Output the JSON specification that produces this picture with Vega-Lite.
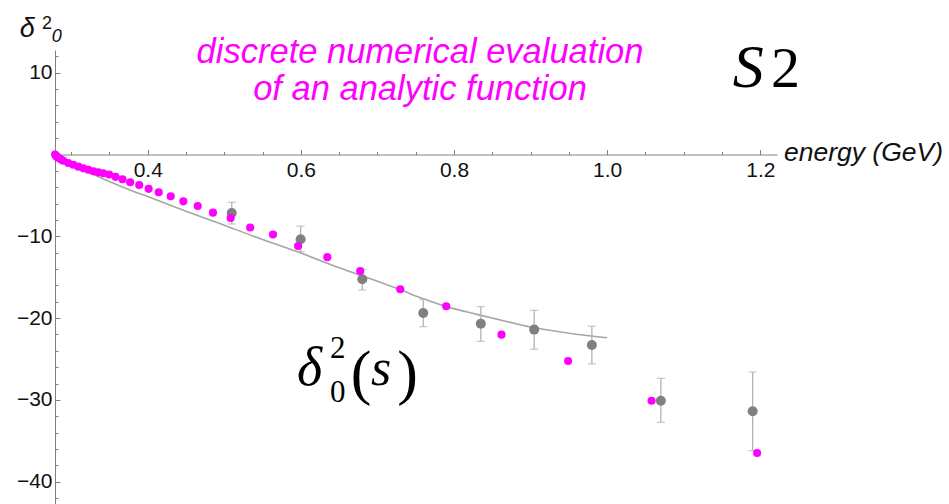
{
  "$schema": "https://vega.github.io/schema/vega-lite/v6.json",
  "width": 722,
  "height": 454,
  "autosize": "none",
  "padding": {"left": 55, "top": 50, "right": 172, "bottom": 0},
  "background": "white",
  "config": {"view": {"stroke": null}},
  "datasets": {
    "one": [{}],
    "curve": [
      {"e": 0.2789, "d": 0}, {"e": 0.283, "d": -0.35}, {"e": 0.29, "d": -0.8}, {"e": 0.30, "d": -1.25},
      {"e": 0.32, "d": -2.05}, {"e": 0.34, "d": -2.9}, {"e": 0.36, "d": -3.7}, {"e": 0.38, "d": -4.45},
      {"e": 0.40, "d": -5.15}, {"e": 0.45, "d": -6.95}, {"e": 0.50, "d": -8.65}, {"e": 0.55, "d": -10.4},
      {"e": 0.60, "d": -12.05}, {"e": 0.65, "d": -13.85}, {"e": 0.70, "d": -15.5}, {"e": 0.73, "d": -16.55},
      {"e": 0.76, "d": -17.65}, {"e": 0.79, "d": -18.6}, {"e": 0.83, "d": -19.55}, {"e": 0.87, "d": -20.45},
      {"e": 0.90, "d": -21.1}, {"e": 0.95, "d": -21.85}, {"e": 1.00, "d": -22.4}
    ],
    "analytic": [
      {"e": 0.2790, "d": 0}, {"e": 0.2805, "d": -0.2}, {"e": 0.2825, "d": -0.36}, {"e": 0.2850, "d": -0.5},
      {"e": 0.2875, "d": -0.64}, {"e": 0.2898, "d": -0.76}, {"e": 0.2963, "d": -1.04}, {"e": 0.3029, "d": -1.25},
      {"e": 0.3094, "d": -1.49}, {"e": 0.3160, "d": -1.69}, {"e": 0.3225, "d": -1.86}, {"e": 0.3290, "d": -2.05},
      {"e": 0.3355, "d": -2.18}, {"e": 0.3420, "d": -2.3}, {"e": 0.3497, "d": -2.45}, {"e": 0.3580, "d": -2.73},
      {"e": 0.3670, "d": -3.02}, {"e": 0.3771, "d": -3.4}, {"e": 0.3889, "d": -3.73}, {"e": 0.4012, "d": -4.2},
      {"e": 0.4143, "d": -4.62}, {"e": 0.4300, "d": -5.11}, {"e": 0.4465, "d": -5.73}, {"e": 0.4653, "d": -6.3},
      {"e": 0.4852, "d": -7.11}, {"e": 0.5083, "d": -7.76}, {"e": 0.5338, "d": -8.92}, {"e": 0.5636, "d": -9.78},
      {"e": 0.5964, "d": -11.19}, {"e": 0.6345, "d": -12.55}, {"e": 0.6775, "d": -14.24}, {"e": 0.7298, "d": -16.48},
      {"e": 0.7898, "d": -18.56}, {"e": 0.8620, "d": -22.03}, {"e": 0.9490, "d": -25.24}, {"e": 1.0580, "d": -30.1},
      {"e": 1.1958, "d": -36.5}
    ],
    "experiment": [
      {"e": 0.5097, "d": -7.15, "lo": -8.5, "hi": -5.85},
      {"e": 0.5997, "d": -10.37, "lo": -11.88, "hi": -8.75},
      {"e": 0.6802, "d": -15.26, "lo": -16.56, "hi": -14.04},
      {"e": 0.7598, "d": -19.38, "lo": -21.05, "hi": -17.7},
      {"e": 0.8350, "d": -20.68, "lo": -22.84, "hi": -18.6},
      {"e": 0.9047, "d": -21.41, "lo": -23.81, "hi": -19.05},
      {"e": 0.9800, "d": -23.29, "lo": -25.6, "hi": -21.0},
      {"e": 1.0701, "d": -30.1, "lo": -32.74, "hi": -27.36},
      {"e": 1.1900, "d": -31.4, "lo": -36.21, "hi": -26.59}
    ]
  },
  "resolve": {"axis": {"x": "independent", "y": "independent"}},
  "layer": [
    {
      "data": {"name": "curve"},
      "mark": {"type": "line", "color": "#a6a6a6", "strokeWidth": 1.6, "interpolate": "monotone"},
      "encoding": {
        "x": {"field": "e", "type": "quantitative", "scale": {"domain": [0.2789, 1.2218], "nice": false, "zero": false},
          "axis": {"orient": "bottom", "offset": -349.5, "values": [0.4, 0.6, 0.8, 1.0, 1.2], "format": ".1f",
            "title": null, "grid": false, "domainColor": "#808080", "tickColor": "#808080", "tickSize": -5,
            "labelPadding": 10, "labelFont": "Liberation Sans", "labelFontSize": 21, "labelColor": "#111111", "labelFlush": false, "labelOverlap": false}},
        "y": {"field": "d", "type": "quantitative", "scale": {"domain": [-42.73, 12.775], "nice": false, "zero": false},
          "axis": {"orient": "left", "values": [10, -10, -20, -30, -40], "title": null, "grid": false,
            "domainColor": "#808080", "tickColor": "#808080", "tickSize": -5, "labelPadding": 8,
            "labelFont": "Liberation Sans", "labelFontSize": 21, "labelColor": "#111111", "labelFlush": false, "labelOverlap": false}}
      }
    },
    {
      "data": {"name": "experiment"},
      "mark": {"type": "errorbar", "ticks": {"size": 8}, "color": "#b3b3b3", "thickness": 1.3},
      "encoding": {
        "x": {"field": "e", "type": "quantitative", "axis": null},
        "y": {"field": "lo", "type": "quantitative", "axis": null},
        "y2": {"field": "hi"}
      }
    },
    {
      "data": {"name": "experiment"},
      "mark": {"type": "circle", "color": "#808080", "opacity": 1, "size": 100},
      "encoding": {
        "x": {"field": "e", "type": "quantitative", "axis": null},
        "y": {"field": "d", "type": "quantitative", "axis": null}
      }
    },
    {
      "data": {"name": "analytic"},
      "mark": {"type": "circle", "color": "#ff00ff", "opacity": 1, "size": 66},
      "encoding": {
        "x": {"field": "e", "type": "quantitative",
          "axis": {"orient": "bottom", "offset": -349.5, "values": [0.3, 0.35, 0.45, 0.5, 0.55, 0.65, 0.7, 0.75, 0.85, 0.9, 0.95, 1.05, 1.1, 1.15],
            "labels": false, "domain": false, "title": null, "grid": false, "tickColor": "#808080", "tickSize": -3}},
        "y": {"field": "d", "type": "quantitative",
          "axis": {"orient": "left", "values": [12, 8, 6, 4, 2, -2, -4, -6, -8, -12, -14, -16, -18, -22, -24, -26, -28, -32, -34, -36, -38, -42],
            "labels": false, "domain": false, "title": null, "grid": false, "tickColor": "#808080", "tickSize": -3}}
      }
    },
    {
      "data": {"name": "one"},
      "mark": {"type": "text", "text": "discrete numerical evaluation", "font": "Liberation Sans", "fontStyle": "italic", "fontSize": 34.5, "color": "#ff00ff", "align": "center", "baseline": "alphabetic"},
      "encoding": {"x": {"datum": 0.7556, "type": "quantitative", "axis": null}, "y": {"datum": 11.19, "type": "quantitative", "axis": null}}
    },
    {
      "data": {"name": "one"},
      "mark": {"type": "text", "text": "of an analytic function", "font": "Liberation Sans", "fontStyle": "italic", "fontSize": 34.5, "color": "#ff00ff", "align": "center", "baseline": "alphabetic"},
      "encoding": {"x": {"datum": 0.7556, "type": "quantitative", "axis": null}, "y": {"datum": 6.66, "type": "quantitative", "axis": null}}
    },
    {
      "data": {"name": "one"},
      "mark": {"type": "text", "text": "S", "font": "Liberation Serif", "fontStyle": "italic", "fontSize": 62, "color": "#000000", "align": "left", "baseline": "alphabetic"},
      "encoding": {"x": {"datum": 1.1640, "type": "quantitative", "axis": null}, "y": {"datum": 8.29, "type": "quantitative", "axis": null}}
    },
    {
      "data": {"name": "one"},
      "mark": {"type": "text", "text": "2", "font": "Liberation Serif", "fontSize": 58, "color": "#000000", "align": "left", "baseline": "alphabetic"},
      "encoding": {"x": {"datum": 1.2140, "type": "quantitative", "axis": null}, "y": {"datum": 8.29, "type": "quantitative", "axis": null}}
    },
    {
      "data": {"name": "one"},
      "mark": {"type": "text", "text": "δ", "font": "Liberation Serif", "fontStyle": "italic", "fontSize": 54, "color": "#000000", "align": "left", "baseline": "alphabetic"},
      "encoding": {"x": {"datum": 0.5950, "type": "quantitative", "axis": null}, "y": {"datum": -28.18, "type": "quantitative", "axis": null}}
    },
    {
      "data": {"name": "one"},
      "mark": {"type": "text", "text": "2", "font": "Liberation Serif", "fontSize": 31, "color": "#000000", "align": "left", "baseline": "alphabetic"},
      "encoding": {"x": {"datum": 0.638, "type": "quantitative", "axis": null}, "y": {"datum": -24.88, "type": "quantitative", "axis": null}}
    },
    {
      "data": {"name": "one"},
      "mark": {"type": "text", "text": "0", "font": "Liberation Serif", "fontSize": 31, "color": "#000000", "align": "left", "baseline": "alphabetic"},
      "encoding": {"x": {"datum": 0.638, "type": "quantitative", "axis": null}, "y": {"datum": -30.22, "type": "quantitative", "axis": null}}
    },
    {
      "data": {"name": "one"},
      "mark": {"type": "text", "text": "(", "font": "Liberation Serif", "fontSize": 62, "color": "#000000", "align": "left", "baseline": "alphabetic"},
      "encoding": {"x": {"datum": 0.6650, "type": "quantitative", "axis": null}, "y": {"datum": -29.2, "type": "quantitative", "axis": null}}
    },
    {
      "data": {"name": "one"},
      "mark": {"type": "text", "text": "s", "font": "Liberation Serif", "fontStyle": "italic", "fontSize": 52, "color": "#000000", "align": "left", "baseline": "alphabetic"},
      "encoding": {"x": {"datum": 0.6915, "type": "quantitative", "axis": null}, "y": {"datum": -28.18, "type": "quantitative", "axis": null}}
    },
    {
      "data": {"name": "one"},
      "mark": {"type": "text", "text": ")", "font": "Liberation Serif", "fontSize": 62, "color": "#000000", "align": "left", "baseline": "alphabetic"},
      "encoding": {"x": {"datum": 0.7260, "type": "quantitative", "axis": null}, "y": {"datum": -29.2, "type": "quantitative", "axis": null}}
    },
    {
      "data": {"name": "one"},
      "mark": {"type": "text", "text": "energy (GeV)", "font": "Liberation Sans", "fontStyle": "italic", "fontSize": 26.5, "color": "#111111", "align": "left", "baseline": "alphabetic"},
      "encoding": {"x": {"datum": 1.2309, "type": "quantitative", "axis": null}, "y": {"datum": -0.79, "type": "quantitative", "axis": null}}
    },
    {
      "data": {"name": "one"},
      "mark": {"type": "text", "text": "δ", "font": "Liberation Sans", "fontStyle": "italic", "fontSize": 27, "color": "#111111", "align": "left", "baseline": "alphabetic"},
      "encoding": {"x": {"datum": 0.2330, "type": "quantitative", "axis": null}, "y": {"datum": 14.33, "type": "quantitative", "axis": null}}
    },
    {
      "data": {"name": "one"},
      "mark": {"type": "text", "text": "2", "font": "Liberation Sans", "fontSize": 18, "color": "#111111", "align": "left", "baseline": "alphabetic"},
      "encoding": {"x": {"datum": 0.2620, "type": "quantitative", "axis": null}, "y": {"datum": 15.34, "type": "quantitative", "axis": null}}
    },
    {
      "data": {"name": "one"},
      "mark": {"type": "text", "text": "0", "font": "Liberation Sans", "fontStyle": "italic", "fontSize": 18, "color": "#111111", "align": "left", "baseline": "alphabetic"},
      "encoding": {"x": {"datum": 0.2745, "type": "quantitative", "axis": null}, "y": {"datum": 13.79, "type": "quantitative", "axis": null}}
    }
  ]
}
